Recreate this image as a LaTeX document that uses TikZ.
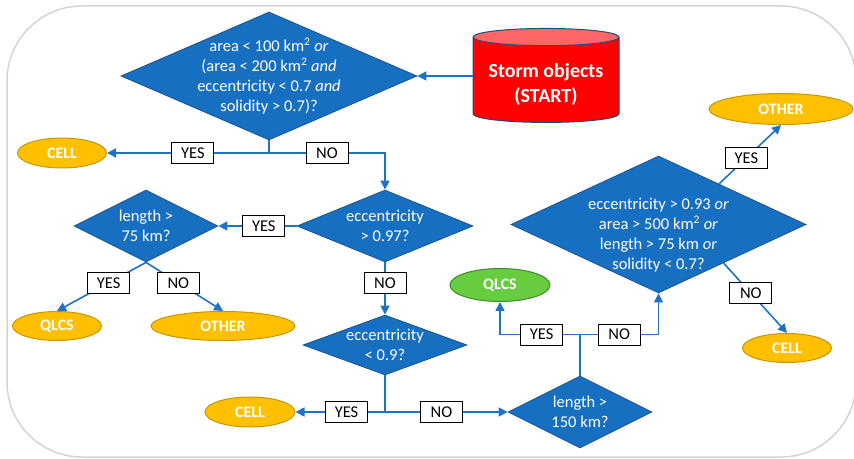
\documentclass[tikz,border=0pt]{standalone}
\usepackage{fontspec}
\setmainfont{Carlito}
\usetikzlibrary{shapes.geometric,arrows.meta,calc}

\definecolor{flowblue}{RGB}{30,115,200}
\definecolor{boxblue}{RGB}{23,111,193}
\definecolor{boxedge}{RGB}{30,85,140}
\definecolor{goldfill}{RGB}{255,192,0}
\definecolor{goldedge}{RGB}{200,150,0}
\definecolor{greenfill}{RGB}{104,204,64}
\definecolor{greenedge}{RGB}{60,140,40}
\definecolor{startred}{RGB}{255,0,0}
\definecolor{starttop}{RGB}{255,102,102}
\definecolor{startedge}{RGB}{31,78,121}
\definecolor{framegrey}{RGB}{212,212,212}

\tikzset{
    decision/.style={diamond, draw=boxedge, fill=boxblue, inner sep=0pt, line width=0.8pt},
    qtext/.style={text=white, align=center, font=\fontsize{16.5}{20}\selectfont},
    leaf/.style={ellipse, draw=goldedge, fill=goldfill, line width=1pt, inner sep=0pt, text=white, font=\fontsize{16}{19}\selectfont\bfseries},
    tag/.style={draw=black, fill=white, line width=0.9pt, minimum width=42pt, minimum height=21pt, inner sep=0pt, font=\fontsize{16.5}{20}\selectfont},
    wire/.style={draw=flowblue, line width=1.6pt},
    link/.style={wire, -{Triangle[length=9pt,width=9pt]}},
}

\begin{document}
\begin{tikzpicture}[x=1pt,y=1pt]
    \useasboundingbox (0,0) rectangle (854,458);
    \draw[framegrey, line width=1.5pt, rounded corners=75pt] (7,1) rectangle (856,452);

    \node[decision, minimum width=296pt, minimum height=128pt,
        label={[qtext]center:{area < 100 km\textsuperscript{2} \textit{or}\\(area < 200 km\textsuperscript{2} \textit{and}\\eccentricity < 0.7 \textit{and}\\solidity > 0.7)?}}] (q1) at (269,382) {};
    \node[cylinder, shape border rotate=90, aspect=0.15, draw=startedge, line width=1pt,
        cylinder uses custom fill, cylinder body fill=startred, cylinder end fill=starttop,
        minimum width=146pt, minimum height=94pt, inner sep=0pt, text=white,
        font=\fontsize{20}{25}\selectfont\bfseries] (start) at (546,378) {\raisebox{-5pt}[\height][\depth]{\begin{tabular}{@{}c@{}}Storm objects\\(START)\end{tabular}}};
    \node[leaf, minimum width=89pt, minimum height=30pt] (cell1) at (62,305) {CELL};
    \node[decision, minimum width=176pt, minimum height=72pt,
        label={[qtext]center:{eccentricity\\> 0.97?}}] (q2) at (385,232) {};
    \node[decision, minimum width=144pt, minimum height=72pt,
        label={[qtext]center:{length >\\75 km?}}] (q3) at (146,232) {};
    \node[leaf, minimum width=89pt, minimum height=29pt] (qlcs1) at (57,132) {QLCS};
    \node[leaf, minimum width=144pt, minimum height=29pt] (other1) at (223,132) {OTHER};
    \node[decision, minimum width=164pt, minimum height=60pt,
        label={[qtext]center:{eccentricity\\< 0.9?}}] (q4) at (385,113) {};
    \node[leaf, minimum width=90pt, minimum height=30pt] (cell2) at (250,46) {CELL};
    \node[decision, minimum width=144pt, minimum height=72pt,
        label={[qtext]center:{length >\\150 km?}}] (q5) at (580,46) {};
    \node[leaf, draw=greenedge, fill=greenfill, minimum width=100pt, minimum height=33pt] (qlcs2) at (500,173) {QLCS};
    \node[decision, minimum width=295pt, minimum height=137pt,
        label={[qtext, yshift=-11pt]center:{eccentricity > 0.93 \textit{or}\\area > 500 km\textsuperscript{2} \textit{or}\\length > 75 km \textit{or}\\solidity < 0.7?}}] (q6) at (658.5,233.5) {};
    \node[leaf, minimum width=144pt, minimum height=31pt] (other2) at (781,349) {OTHER};
    \node[leaf, minimum width=89pt, minimum height=29pt] (cell3) at (787,110) {CELL};

    \coordinate (split1) at (q1.south |- cell1.east);
    \coordinate (split2) at (q4.south |- q5.west);
    \coordinate (split3) at ($(q5.north)+(0,41)$);
    \coordinate (q6yes) at ($(q6.north)!0.41!(q6.east)$);
    \coordinate (q6no) at ($(q6.south)!0.44!(q6.east)$);

    \draw[link] (start.west |- q1.east) -- (q1.east);
    \draw[wire] (q1.south) -- (split1);
    \draw[link] (split1) -- (cell1.east) node[tag, pos=0.47] (yes1) {YES};
    \draw[link] (split1) -| (q2.north) node[tag, pos=0.25] (no1) {NO};
    \draw[link] (q2.west) -- (q3.east) node[tag, pos=0.42] (yes2) {YES};
    \draw[link] (q3.south) -- (qlcs1.north) node[tag, pos=0.42] (yes3) {YES};
    \draw[link] (q3.south) -- (other1.north) node[tag, pos=0.42] (no3) {NO};
    \draw[link] (q2.south) -- (q4.north) node[tag, pos=0.4] (no2) {NO};
    \draw[wire] (q4.south) -- (split2);
    \draw[link] (split2) -- (cell2.east) node[tag, pos=0.43] (yes4) {YES};
    \draw[link] (split2) -- (q5.west) node[tag, pos=0.46] (no4) {NO};
    \draw[wire] (q5.north) -- (split3);
    \draw[link] (split3) -| (qlcs2.south) node[tag, pos=0.24] (yes5) {YES};
    \draw[link] (split3) -| (q6.south) node[tag, pos=0.25] (no5) {NO};
    \draw[link] (q6yes) -- (other2.south) node[tag, pos=0.44] (yes6) {YES};
    \draw[link] (q6no) -- (cell3.north) node[tag, pos=0.43] (no6) {NO};
\end{tikzpicture}
\end{document}
